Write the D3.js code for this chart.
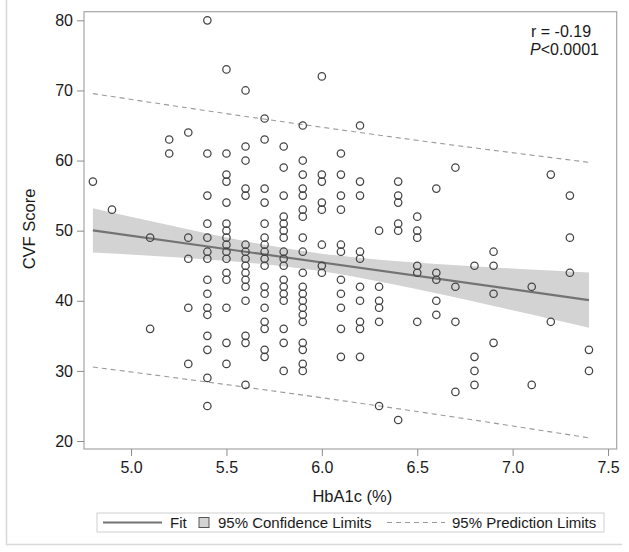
<!DOCTYPE html>
<html><head><meta charset="utf-8">
<script src="https://cdn.jsdelivr.net/npm/d3@7/dist/d3.min.js"></script>
<style>
body{margin:0;background:#fff;}
text{font-family:"Liberation Sans",Arial,sans-serif;fill:#1a1a1a;}
</style>
</head><body>
<svg id="c" width="629" height="552"></svg>
<script>
// ---- data ----
const hba1cLevels = [4.8,4.9,5.1,5.2,5.3,5.4,5.5,5.6,5.7,5.8,5.9,6.0,6.1,6.2,6.3,6.4,6.5,6.6,6.7,6.8,6.9,7.1,7.2,7.3,7.4];
const cvfByLevel = [
  [57],
  [53],
  [49,36],
  [63,61],
  [64,49,46,39,31],
  [80,61,55,51,49,47,46,43,41,39,38,35,33,29,25],
  [73,61,58,57,54,51,50,49,48,47,46,44,43,39,34,31],
  [70,62,60,56,55,48,47,46,45,44,43,42,40,35,34,28],
  [66,63,56,54,51,49,48,47,46,45,42,41,39,37,36,33,32],
  [62,59,55,52,51,50,49,47,46,45,43,42,41,40,36,34,30],
  [65,60,58,56,55,53,52,49,47,44,42,41,40,39,38,37,34,33,31,30],
  [72,58,57,54,53,48,45,44],
  [61,58,55,53,48,47,43,41,39,36,32],
  [65,57,55,47,46,42,40,37,36,32],
  [50,42,40,39,37,25],
  [57,55,54,51,50,23],
  [52,50,49,45,44,37],
  [56,44,43,40,38],
  [59,42,37,27],
  [45,32,30,28],
  [47,45,41,34],
  [42,28],
  [58,37],
  [55,49,44],
  [33,30]
];
const fitX = [4.8, 7.4];
const fitY = [50.05, 40.1];
const clX = [4.8,5.1,5.4,5.7,6.0,6.3,6.6,6.9,7.2,7.4];
const clUpper = [53.2,51.37,49.6,47.99,46.72,45.86,45.26,44.76,44.31,44.03];
const clLower = [46.9,46.43,45.9,45.21,44.2,42.76,41.06,39.26,37.41,36.17];
const plX = [4.8,5.4,6.0,6.6,7.4];
const plUpper = [69.55,67.09,64.75,62.52,59.75];
const plLower = [30.55,28.41,26.17,23.8,20.45];
const xTicks = [5.0,5.5,6.0,6.5,7.0,7.5];
const yTicks = [20,30,40,50,60,70,80];
const xTitle = "HbA1c (%)";
const yTitle = "CVF Score";
const legendLabels = ["Fit","95% Confidence Limits","95% Prediction Limits"];

// ---- layout ----
const L = 84, R = 616.7, T = 11.7, B = 449;
const svg = d3.select("#c");
const x = d3.scaleLinear().domain([4.7534, 7.5454]).range([L, R]);
const y = d3.scaleLinear().domain([18.86, 81.23]).range([B, T]);

// outer border (left + bottom visible in reference)
svg.append("path").attr("d", "M6.5,0V544.5H622").attr("fill","none").attr("stroke","#d8d8d8").attr("stroke-width",1.5);

// confidence band
const band = d3.area().x((d,i)=>x(clX[i])).y0((d,i)=>y(clLower[i])).y1((d,i)=>y(clUpper[i])).curve(d3.curveMonotoneX);
svg.append("path").datum(clX).attr("d", band).attr("fill","#d3d3d3");

// fit line
const ln = d3.line().x(d=>x(d[0])).y(d=>y(d[1]));
svg.append("path").datum(fitX.map((v,i)=>[v,fitY[i]])).attr("d", ln)
  .attr("fill","none").attr("stroke","#737373").attr("stroke-width",2.2);

// prediction limits
const lnc = d3.line().x(d=>x(d[0])).y(d=>y(d[1])).curve(d3.curveMonotoneX);
[plUpper, plLower].forEach(arr=>{
  svg.append("path").datum(plX.map((v,i)=>[v,arr[i]])).attr("d", lnc)
    .attr("fill","none").attr("stroke","#9a9a9a").attr("stroke-width",1.1).attr("stroke-dasharray","5,4");
});

// points
const pts = [];
hba1cLevels.forEach((h,i)=>cvfByLevel[i].forEach(v=>pts.push([h,v])));
svg.append("g").selectAll("circle").data(pts).join("circle")
  .attr("cx", d=>x(d[0])).attr("cy", d=>y(d[1])).attr("r", 3.7)
  .attr("fill","none").attr("stroke","#444").attr("stroke-width",1.25);

// frame
svg.append("rect").attr("x",L).attr("y",T).attr("width",R-L).attr("height",B-T)
  .attr("fill","none").attr("stroke","#a6a6a6").attr("stroke-width",1.2);

// axes
const ya = svg.append("g").attr("transform",`translate(${L},0)`)
  .call(d3.axisLeft(y).tickValues(yTicks).tickSize(7).tickPadding(4).tickFormat(d3.format("d")));
const xa = svg.append("g").attr("transform",`translate(0,${B})`)
  .call(d3.axisBottom(x).tickValues(xTicks).tickSize(7).tickPadding(6).tickFormat(d3.format(".1f")));
[ya,xa].forEach(g=>{
  g.select(".domain").remove();
  g.selectAll(".tick line").attr("stroke","#8c8c8c");
  g.selectAll(".tick text").attr("font-size",16).attr("font-family","Liberation Sans, Arial, sans-serif").attr("fill","#1a1a1a");
});

// axis titles
svg.append("text").attr("x", (L+R)/2+2).attr("y", 502).attr("text-anchor","middle")
  .attr("font-size",16.5).text(xTitle);
svg.append("text").attr("transform","translate(35,229) rotate(-90)").attr("text-anchor","middle")
  .attr("font-size",16.5).text(yTitle);

// annotation
svg.append("text").attr("x",531).attr("y",37).attr("font-size",16).text("r = -0.19");
const t2 = svg.append("text").attr("x",530).attr("y",55).attr("font-size",16);
t2.append("tspan").attr("font-style","italic").text("P");
t2.append("tspan").text("<0.0001");

// legend
const lg = svg.append("g");
lg.append("rect").attr("x",97).attr("y",513).attr("width",507).attr("height",19)
  .attr("fill","#fff").attr("stroke","#cfcfcf");
lg.append("line").attr("x1",103).attr("x2",162).attr("y1",522.5).attr("y2",522.5)
  .attr("stroke","#737373").attr("stroke-width",2.2);
lg.append("text").attr("x",170).attr("y",527.5).attr("font-size",15).text(legendLabels[0]);
lg.append("rect").attr("x",199).attr("y",517.5).attr("width",10).attr("height",10)
  .attr("fill","#d3d3d3").attr("stroke","#555").attr("stroke-width",1);
lg.append("text").attr("x",218).attr("y",527.5).attr("font-size",15).text(legendLabels[1]);
lg.append("line").attr("x1",387).attr("x2",445).attr("y1",522.5).attr("y2",522.5)
  .attr("stroke","#9a9a9a").attr("stroke-width",1.1).attr("stroke-dasharray","5,4");
lg.append("text").attr("x",452).attr("y",527.5).attr("font-size",15).text(legendLabels[2]);
</script>
</body></html>
